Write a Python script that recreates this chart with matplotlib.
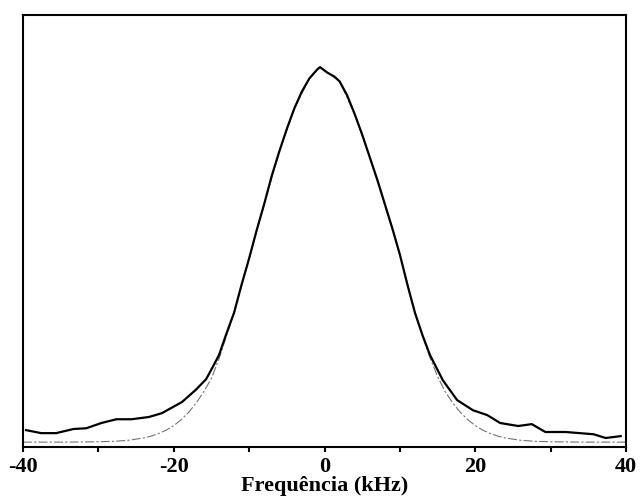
import numpy as np
import matplotlib.pyplot as plt
from matplotlib.ticker import MultipleLocator

# espectro medido (kHz, intensidade normalizada)
freq = [-39.6, -37.6, -35.6, -33.3, -31.6, -29.6, -27.6, -25.6, -23.3, -21.6,
        -18.9, -17.1, -15.7, -14.7, -14, -13, -12, -11, -10, -9,
        -8, -7, -6, -5, -4, -3, -2, -1, -0.6, 0.4,
        1.3, 2, 3, 4, 5, 6, 7, 8, 9, 10,
        11, 12, 13, 14, 15.7, 17.6, 19.7, 21.6, 23.3, 25.7,
        27.5, 29.3, 32.0, 35.7, 37.3, 39.3]
intens = [0.032, 0.024, 0.024, 0.035, 0.037, 0.051, 0.061, 0.061, 0.067, 0.077,
          0.107, 0.139, 0.168, 0.205, 0.232, 0.29, 0.345, 0.42, 0.49, 0.565,
          0.635, 0.71, 0.775, 0.835, 0.89, 0.935, 0.97, 0.993, 1.0, 0.985,
          0.975, 0.962, 0.925, 0.875, 0.82, 0.76, 0.70, 0.635, 0.57, 0.50,
          0.42, 0.345, 0.285, 0.232, 0.165, 0.112, 0.085, 0.072, 0.051, 0.043,
          0.048, 0.027, 0.027, 0.021, 0.011, 0.016]

# ajuste gaussiano
freq_fit = [-40, -34, -30, -28, -26, -25, -24, -23, -22, -21, -20, -19, -18, -17,
            -16, -15, -14, -12, -10, -8, -6, -4, -2, -0.6, 2, 4, 6, 8, 10, 12,
            14, 15, 16, 17, 18, 19, 20, 21, 22, 23, 24, 25, 26, 28, 30, 34, 40]
intens_fit = [0.0, 0.0, 0.001, 0.002, 0.005, 0.008, 0.011, 0.016, 0.023, 0.032,
              0.044, 0.060, 0.080, 0.105, 0.135, 0.170, 0.222, 0.345, 0.49,
              0.635, 0.775, 0.89, 0.97, 1.0, 0.962, 0.875, 0.76, 0.635,
              0.50, 0.345, 0.225, 0.175, 0.135, 0.105, 0.080, 0.060, 0.044,
              0.032, 0.023, 0.016, 0.011, 0.008, 0.005, 0.002, 0.001, 0.0, 0.0]

xticks = [-40, -20, 0, 20, 40]

fig = plt.figure(figsize=(6.41, 5.03), dpi=100)
ax = fig.add_axes([23 / 641, 56 / 503, 603 / 641, 432 / 503])

ax.plot(freq_fit, intens_fit, color='0.45', lw=0.8, ls=(0, (8, 2, 2, 2)))
ax.plot(freq, intens, color='black', lw=1.6)

ax.set_xlim(-40, 40)
ax.set_ylim(-0.013, 1.139)
ax.set_xticks(xticks)
ax.set_xticklabels([str(t) for t in xticks])
ax.xaxis.set_minor_locator(MultipleLocator(10))
ax.set_yticks([])
ax.tick_params(axis='x', which='both', direction='out', length=3.5, width=1.5, pad=4)

for lab in ax.get_xticklabels():
    lab.set_family('Liberation Serif')
    lab.set_fontweight('bold')
    lab.set_fontsize(16)

ax.set_xlabel('Frequência (kHz)', family='Liberation Serif', fontweight='bold',
              fontsize=16, labelpad=-1)

for sp in ax.spines.values():
    sp.set_linewidth(1.5)

fig.savefig('out.png', dpi=100)
